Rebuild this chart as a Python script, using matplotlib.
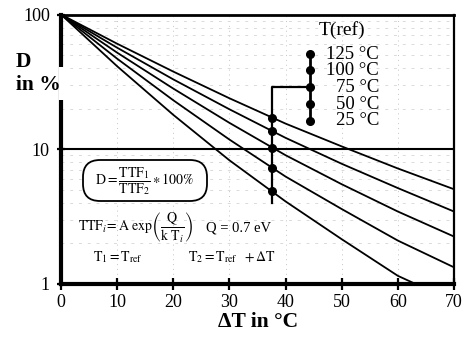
import matplotlib
matplotlib.use('Agg')
import matplotlib.pyplot as plt
import matplotlib.transforms as mtransforms
from matplotlib.patches import FancyBboxPatch, Rectangle
from matplotlib.ticker import NullLocator

plt.rcParams['font.family'] = ['Liberation Serif', 'DejaVu Serif']
plt.rcParams['mathtext.fontset'] = 'stix'

# ---- data ----
delta_t = [0, 10, 20, 30, 40, 50, 60, 70]
t_ref_labels = ['125 °C', '100 °C', '75 °C', '50 °C', '25 °C']
d_125 = [100, 60.7, 37.7, 23.9, 15.5, 10.5, 7.2, 5.05]
d_100 = [100, 56.7, 33.0, 19.8, 12.15, 7.8, 5.15, 3.45]
d_75 = [100, 52.1, 28.2, 15.7, 9.03, 5.5, 3.45, 2.25]
d_50 = [100, 47.0, 23.1, 11.8, 6.27, 3.6, 2.1, 1.33]
d_25 = [100, 41.3, 18.0, 8.28, 4.1, 2.15, 1.15, 0.74]
marker_dt = 37.6
marker_d = [17.2, 13.7, 10.3, 7.3, 4.9]
x_ticks = [0, 10, 20, 30, 40, 50, 60, 70]
y_ticks = [1, 10, 100]
y_tick_labels = ['1', '10', '100']

W, H = 470, 347
fig = plt.figure(figsize=(W / 100, H / 100), dpi=100)
ax = fig.add_axes([61 / W, (H - 284) / H, 393 / W, 269.5 / H])

# faint grid
for x in [10, 20, 30, 40, 50, 60]:
    ax.axvline(x, color='#c4c4c4', lw=0.7, ls=(0, (1, 4)), zorder=1)
for y in [2, 3, 4, 5, 6, 7, 8, 9, 20, 30, 40, 50, 60, 70, 80, 90]:
    ax.axhline(y, color='#dadada', lw=0.7, ls=(0, (3, 6)), zorder=1)
ax.axhline(10, color='black', lw=1.5, zorder=2)

for d in [d_125, d_100, d_75, d_50, d_25]:
    ax.plot(delta_t, d, color='black', lw=1.3, zorder=3)

ax.set_yscale('log')
ax.set_xlim(0, 70)
ax.set_ylim(1, 100)
ax.set_xticks(x_ticks)
ax.set_yticks(y_ticks)
ax.set_yticklabels(y_tick_labels)
ax.yaxis.set_minor_locator(NullLocator())
ax.tick_params(axis='x', labelsize=13, direction='inout', length=8, width=1.6, pad=3)
ax.tick_params(axis='y', labelsize=13, direction='inout', length=6, width=1.6, pad=5)
ax.spines['left'].set_linewidth(3)
ax.spines['bottom'].set_linewidth(3)
ax.spines['top'].set_linewidth(2)
ax.spines['right'].set_linewidth(1.6)

# markers on curves at the chosen delta T
blend = mtransforms.blended_transform_factory(ax.transData, ax.transAxes)
ax.plot([marker_dt] * len(marker_d), marker_d, 'o', color='black', ms=5.5, zorder=4)

# legend (layout in axes fraction for y)
leg_x = 44.4
leg_y = [0.853, 0.793, 0.730, 0.667, 0.605]
ax.plot([leg_x] * 5, leg_y, transform=blend, color='black', lw=2, marker='o', ms=5.5,
        clip_on=False, zorder=4)
for lab, yy in zip(t_ref_labels, leg_y):
    ax.text(0.809, yy, lab, transform=ax.transAxes, ha='right', va='center', fontsize=13.5)
ax.text(0.716, 0.942, 'T(ref)', transform=ax.transAxes, ha='center', va='center', fontsize=14)
# connector
ax.plot([leg_x, marker_dt, marker_dt], [leg_y[2], leg_y[2], 0.30], transform=blend,
        color='black', lw=1.6, zorder=3)

# y label and x label
def px(x, y):
    return x / W, 1 - y / H

fig.text(*px(16, 62), 'D', fontsize=15.5, fontweight='bold', ha='left', va='center')
fig.text(*px(16, 85), 'in %', fontsize=15.5, fontweight='bold', ha='left', va='center')
fig.text(*px(258, 322), 'ΔT in °C', fontsize=15.5, fontweight='bold', ha='center', va='center')

# gap in left spine as in reference
fig.add_artist(Rectangle((0.585, (H - 100) / 100), 0.08, 0.33, transform=fig.dpi_scale_trans,
                         facecolor='white', edgecolor='none', zorder=10))

# formula box
box = FancyBboxPatch((0.83, (H - 201) / 100), 1.24, 0.41, boxstyle='round,pad=0,rounding_size=0.17',
                     transform=fig.dpi_scale_trans, facecolor='white', edgecolor='black', lw=1.3,
                     zorder=5)
fig.add_artist(box)
fig.text(*px(145, 181), r'$\mathrm{D} = \dfrac{\mathrm{TTF}_1}{\mathrm{TTF}_2} \ast 100\%$',
         fontsize=10, ha='center', va='center', zorder=6)
fig.text(*px(78, 228), r'$\mathrm{TTF}_i\!= \mathrm{A}\ \exp\!\left(\dfrac{\mathrm{Q}}{\mathrm{k\ T}_i}\right)$',
         fontsize=10, ha='left', va='center', zorder=6)
fig.text(*px(206, 228), 'Q = 0.7 eV', fontsize=10.5, ha='left', va='center', zorder=6)
fig.text(*px(93, 257), r'$\mathrm{T}_1 = \mathrm{T}_{\mathrm{ref}}$', fontsize=10, ha='left', va='center', zorder=6)
fig.text(*px(188, 257), r'$\mathrm{T}_2 = \mathrm{T}_{\mathrm{ref}}\ \ + \Delta\mathrm{T}$', fontsize=10,
         ha='left', va='center', zorder=6)

fig.savefig('out.png', dpi=100)
